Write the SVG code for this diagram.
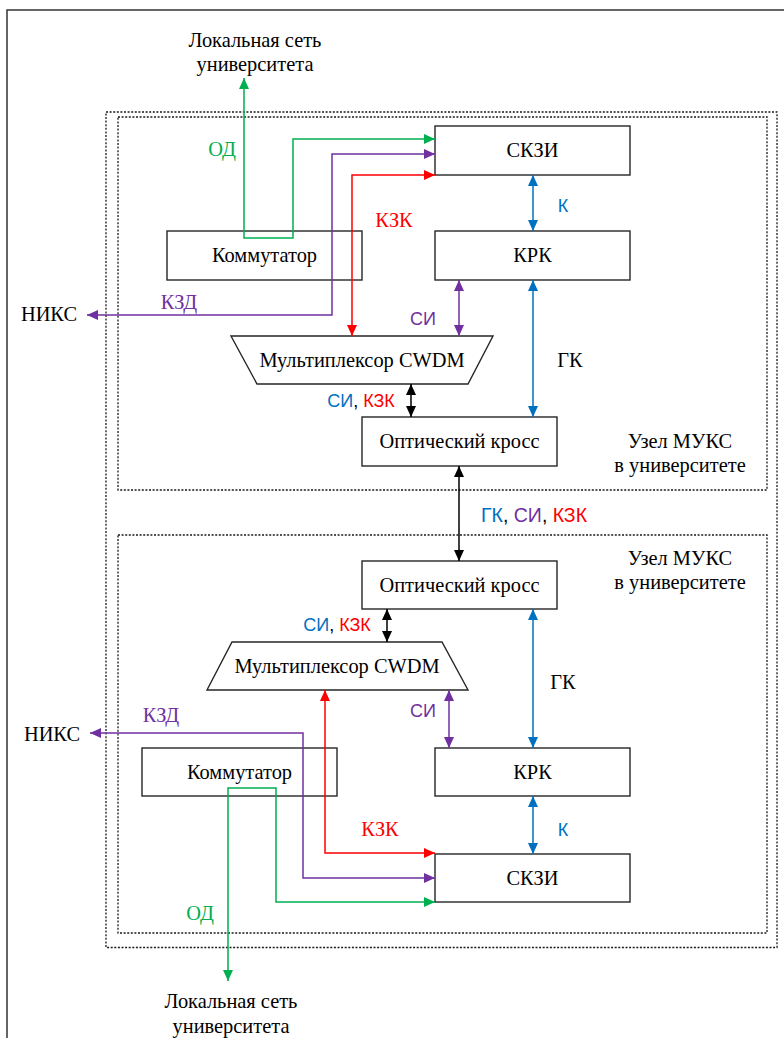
<svg xmlns="http://www.w3.org/2000/svg" width="784" height="1038" viewBox="0 0 784 1038">
<style>
.box{fill:none;stroke:#262626;stroke-width:1.4}
.dot{fill:none;stroke:#1a1a1a;stroke-width:1.3;stroke-dasharray:2,1.6}
.t{font-family:"Liberation Serif","Times New Roman",serif;font-size:20.4px;fill:#000;text-anchor:middle}
.s{font-family:"Liberation Sans",Arial,sans-serif;font-size:18px;text-anchor:middle}
.ln{fill:none;stroke-width:1.5}
.g{stroke:#00b050}.p{stroke:#7030a0}.r{stroke:#ff0000}.b{stroke:#0070c0}.k{stroke:#000}
</style>
<defs>
<marker id="ag" markerUnits="userSpaceOnUse" markerWidth="11" markerHeight="10" refX="11" refY="5" orient="auto-start-reverse"><path d="M0,0 L11,5 L0,10 z" fill="#00b050"/></marker>
<marker id="ap" markerUnits="userSpaceOnUse" markerWidth="11" markerHeight="10" refX="11" refY="5" orient="auto-start-reverse"><path d="M0,0 L11,5 L0,10 z" fill="#7030a0"/></marker>
<marker id="ar" markerUnits="userSpaceOnUse" markerWidth="11" markerHeight="10" refX="11" refY="5" orient="auto-start-reverse"><path d="M0,0 L11,5 L0,10 z" fill="#ff0000"/></marker>
<marker id="ab" markerUnits="userSpaceOnUse" markerWidth="11" markerHeight="10" refX="11" refY="5" orient="auto-start-reverse"><path d="M0,0 L11,5 L0,10 z" fill="#0070c0"/></marker>
<marker id="ak" markerUnits="userSpaceOnUse" markerWidth="11" markerHeight="10" refX="11" refY="5" orient="auto-start-reverse"><path d="M0,0 L11,5 L0,10 z" fill="#000"/></marker>
</defs>
<rect x="0" y="0" width="784" height="1038" fill="#fff"/>
<rect x="7" y="10" width="820" height="1100" fill="none" stroke="#404040" stroke-width="1.6"/>
<g id="frames">
<rect class="dot" x="106" y="112" width="671" height="835.5"/>
<rect class="dot" x="118" y="117" width="649" height="373"/>
<rect class="dot" x="118" y="535" width="649" height="398"/>
</g>
<g id="skzi1"><rect class="box" x="435" y="126" width="195" height="49"/><text class="t" x="532.5" y="157">СКЗИ</text></g>
<g id="krk1"><rect class="box" x="435" y="231" width="195" height="49"/><text class="t" x="532.5" y="262">КРК</text></g>
<g id="komm1"><rect class="box" x="167" y="231" width="195" height="49"/><text class="t" x="264.5" y="262">Коммутатор</text></g>
<g id="mux1"><path class="box" d="M231,336 L493,336 L468,384 L257,384 Z"/><text class="t" x="362" y="367">Мультиплексор CWDM</text></g>
<g id="cross1"><rect class="box" x="362" y="417" width="195" height="49"/><text class="t" x="459.5" y="448">Оптический кросс</text></g>
<g id="cross2"><rect class="box" x="362" y="561" width="195" height="48"/><text class="t" x="459.5" y="592">Оптический кросс</text></g>
<g id="mux2"><path class="box" d="M232,642 L442,642 L468,690 L207,690 Z"/><text class="t" x="337" y="673">Мультиплексор CWDM</text></g>
<g id="krk2"><rect class="box" x="435" y="748" width="195" height="48"/><text class="t" x="532.5" y="779">КРК</text></g>
<g id="komm2"><rect class="box" x="142" y="748" width="195" height="48"/><text class="t" x="239.5" y="779">Коммутатор</text></g>
<g id="skzi2"><rect class="box" x="435" y="854" width="195" height="48"/><text class="t" x="532.5" y="885">СКЗИ</text></g>
<g id="connectors">
<path class="ln g" d="M244,78 L244,238 L293,238 L293,139 L435,139" marker-start="url(#ag)" marker-end="url(#ag)"/>
<path class="ln p" d="M87,315 L332,315 L332,154 L435,154" marker-start="url(#ap)" marker-end="url(#ap)"/>
<path class="ln r" d="M352,336 L352,175 L435,175" marker-start="url(#ar)" marker-end="url(#ar)"/>
<path class="ln b" d="M533,175 L533,231" marker-start="url(#ab)" marker-end="url(#ab)"/>
<path class="ln p" d="M459,280 L459,336" marker-start="url(#ap)" marker-end="url(#ap)"/>
<path class="ln b" d="M533,280 L533,417" marker-start="url(#ab)" marker-end="url(#ab)"/>
<path class="ln k" d="M411,384 L411,417" marker-start="url(#ak)" marker-end="url(#ak)"/>
<path class="ln k" d="M459,466 L459,561" marker-start="url(#ak)" marker-end="url(#ak)"/>
<path class="ln k" d="M387,609 L387,642" marker-start="url(#ak)" marker-end="url(#ak)"/>
<path class="ln p" d="M449,690 L449,748" marker-start="url(#ap)" marker-end="url(#ap)"/>
<path class="ln b" d="M533,609 L533,748" marker-start="url(#ab)" marker-end="url(#ab)"/>
<path class="ln b" d="M533,796 L533,854" marker-start="url(#ab)" marker-end="url(#ab)"/>
<path class="ln r" d="M325,690 L325,853 L435,853" marker-start="url(#ar)" marker-end="url(#ar)"/>
<path class="ln p" d="M90,733 L303,733 L303,878 L435,878" marker-start="url(#ap)" marker-end="url(#ap)"/>
<path class="ln g" d="M228,981 L228,788 L276,788 L276,902 L435,902" marker-start="url(#ag)" marker-end="url(#ag)"/>
</g>
<g id="labels">
<text class="t" x="255" y="47">Локальная сеть</text>
<text class="t" x="255" y="71">университета</text>
<text class="t" x="231" y="1008">Локальная сеть</text>
<text class="t" x="231" y="1033">университета</text>
<text class="t" x="49" y="321">НИКС</text>
<text class="t" x="52" y="741">НИКС</text>
<text class="t" x="680" y="448">Узел МУКС</text>
<text class="t" x="680" y="472">в университете</text>
<text class="t" x="680" y="565">Узел МУКС</text>
<text class="t" x="680" y="589">в университете</text>
<text class="t" x="222" y="156" style="fill:#00b050">ОД</text>
<text class="t" x="200" y="920" style="fill:#00b050">ОД</text>
<text class="t" x="394" y="227" style="fill:#ff0000">КЗК</text>
<text class="t" x="380" y="836" style="fill:#ff0000">КЗК</text>
<text class="t" x="179" y="309" style="fill:#7030a0">КЗД</text>
<text class="t" x="161" y="722" style="fill:#7030a0">КЗД</text>
<text class="t" x="570" y="367">ГК</text>
<text class="t" x="563" y="689">ГК</text>
<text class="s" x="563" y="212" fill="#0070c0">К</text>
<text class="s" x="563" y="836" fill="#0070c0">К</text>
<text class="s" x="423" y="325" fill="#7030a0">СИ</text>
<text class="s" x="423" y="717" fill="#7030a0">СИ</text>
<text class="s" x="361" y="407"><tspan fill="#0070c0">СИ</tspan><tspan fill="#000">, </tspan><tspan fill="#ff0000">КЗК</tspan></text>
<text class="s" x="337" y="631"><tspan fill="#0070c0">СИ</tspan><tspan fill="#000">, </tspan><tspan fill="#ff0000">КЗК</tspan></text>
<text class="s" x="534" y="522" style="font-size:19.5px"><tspan fill="#0070c0">ГК</tspan><tspan fill="#000">, </tspan><tspan fill="#7030a0">СИ</tspan><tspan fill="#000">, </tspan><tspan fill="#ff0000">КЗК</tspan></text>
</g>
</svg>
